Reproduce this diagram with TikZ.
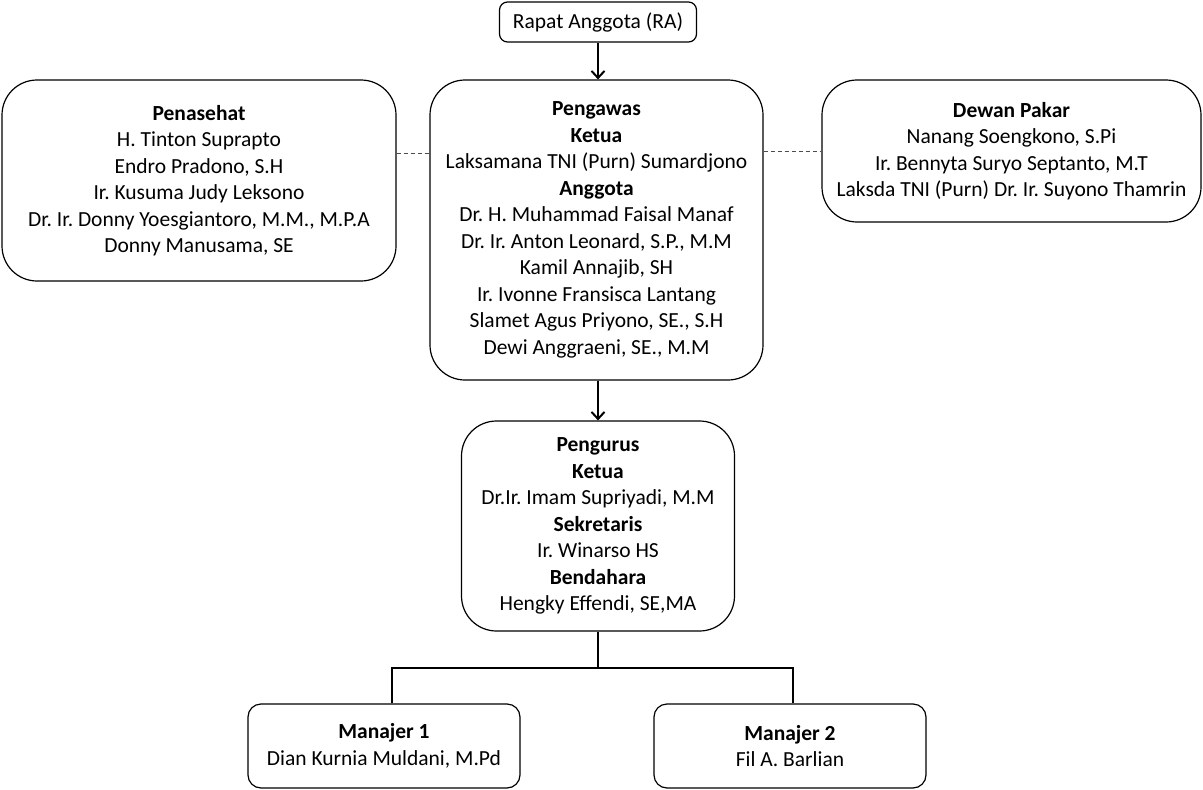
\documentclass[tikz,border=0pt]{standalone}
\usepackage{fontspec}
\setmainfont{Carlito}
\usetikzlibrary{arrows.meta}
\frenchspacing

\begin{document}
\begin{tikzpicture}[
    x=1pt, y=-1pt,
    kotak/.style={draw, rounded corners=35pt, align=center, inner sep=0pt, line width=1.2pt},
    putus/.style={dash pattern=on 4pt off 3pt, line width=0.8pt, black!70},
    >={Straight Barb[length=7pt, width=13pt]},
    font=\fontsize{21.5}{26.5}\selectfont
]
    \useasboundingbox (0,0) rectangle (1203,790);

    % kotak-kotak
    \node[kotak, rounded corners=8pt, minimum width=197pt, minimum height=40pt] (RA) at (598,22) {Rapat Anggota (RA)};
    \node[kotak, minimum width=394pt, minimum height=201pt] (PN) at (199,180.5) {%
        \textbf{Penasehat}\\ H. Tinton Suprapto\\ Endro Pradono, S.H\\ Ir. Kusuma Judy Leksono\\
        Dr. Ir. Donny Yoesgiantoro, M.M., M.P.A\\ Donny Manusama, SE};
    \node[kotak, minimum width=333pt, minimum height=300pt] (AW) at (596.5,230) {%
        \textbf{Pengawas}\\ \textbf{Ketua}\\ Laksamana TNI (Purn) Sumardjono\\ \textbf{Anggota}\\
        Dr. H. Muhammad Faisal Manaf\\ Dr. Ir. Anton Leonard, S.P., M.M\\ Kamil Annajib, SH\\
        Ir. Ivonne Fransisca Lantang\\ Slamet Agus Priyono, SE., S.H\\ Dewi Anggraeni, SE., M.M};
    \node[kotak, minimum width=379pt, minimum height=142pt] (DP) at (1011.5,151) {%
        \textbf{Dewan Pakar}\\ Nanang Soengkono, S.Pi\\ Ir. Bennyta Suryo Septanto, M.T\\
        Laksda TNI (Purn) Dr. Ir. Suyono Thamrin};
    \node[kotak, minimum width=273pt, minimum height=210pt] (PU) at (598,526) {%
        \textbf{Pengurus}\\ \textbf{Ketua}\\ Dr.Ir. Imam Supriyadi, M.M\\ \textbf{Sekretaris}\\
        Ir. Winarso HS\\ \textbf{Bendahara}\\ Hengky Effendi, SE,MA};
    \node[kotak, rounded corners=13pt, minimum width=272pt, minimum height=84pt] (M1) at (384,746) {%
        \textbf{Manajer 1}\\ Dian Kurnia Muldani, M.Pd};
    \node[kotak, rounded corners=13pt, minimum width=272pt, minimum height=84pt] (M2) at (790,746) {%
        \textbf{Manajer 2}\\ Fil A. Barlian};

    % panah
    \draw[->, line width=2pt] (RA.south) -- (RA.south |- AW.north);
    \draw[->, line width=2pt] (AW.south -| PU.north) -- (PU.north);

    % garis putus-putus
    \coordinate (d1) at ([yshift=27.5pt]PN.east);
    \draw[putus] (d1) -- (d1 -| AW.west);
    \draw[putus] (DP.west -| AW.east) -- (DP.west);

    % cabang manajer
    \coordinate (cabang) at (598,668);
    \draw[line width=1.4pt] (PU.south) -- (cabang);
    \draw[line width=1.4pt] ([xshift=8pt]M1.north) |- (cabang) -| ([xshift=3pt]M2.north);
\end{tikzpicture}
\end{document}
